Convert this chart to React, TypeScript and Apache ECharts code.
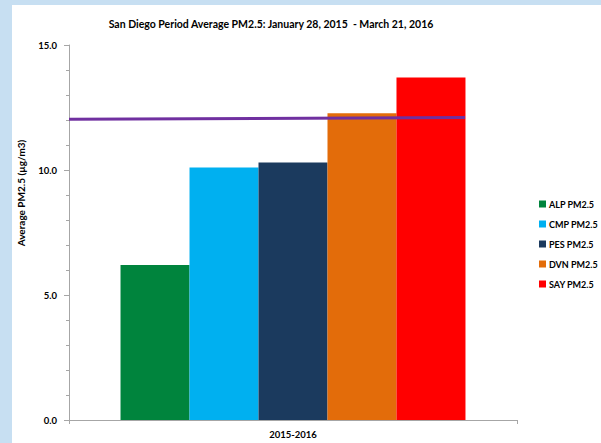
import React, { useEffect, useRef } from "react";
import * as echarts from "echarts";

const categories = ["2015-2016"];
const seriesNames = ["ALP PM2.5", "CMP PM2.5", "PES PM2.5", "DVN PM2.5", "SAY PM2.5"];
const seriesValues = [6.2, 10.1, 10.3, 12.27, 13.7];
const seriesColors = ["#00843D", "#00B0F0", "#1B3A5E", "#E36C0A", "#FF0000"];
const standardLine = [
  [0, 12.03],
  [0.884, 12.1],
];
const yTicks = [0, 5, 10, 15];

const FONT = "Lato, 'Open Sans', sans-serif";

export default function App() {
  const ref = useRef<HTMLDivElement>(null);
  useEffect(() => {
    const chart = echarts.init(ref.current!, null, { renderer: "svg" });
    const bars = seriesNames.map((name, i) => ({
      name,
      type: "bar",
      xAxisIndex: 0,
      yAxisIndex: 0,
      data: [seriesValues[i]],
      itemStyle: { color: seriesColors[i] },
      barGap: "0%",
      barCategoryGap: "23%",
    }));
    chart.setOption({
      animation: false,
      backgroundColor: "#C7DFF2",
      textStyle: { fontFamily: FONT },
      graphic: [
        {
          type: "rect",
          z: -10,
          shape: { x: 12, y: 5, width: 601, height: 450 },
          style: { fill: "#FFFFFF" },
        },
        {
          type: "text",
          x: 21,
          y: 193,
          rotation: Math.PI / 2,
          style: {
            text: "Average PM2.5 (µg/m3)",
            fontFamily: FONT,
            fontWeight: "bold",
            fontSize: 10,
            fill: "#000",
            align: "center",
            verticalAlign: "middle",
          },
        },
      ],
      title: {
        text: "San Diego Period Average PM2.5: January 28, 2015  - March 21, 2016",
        left: 266,
        textAlign: "center",
        top: 13,
        textStyle: { fontFamily: FONT, fontWeight: "bold", fontSize: 10.5, color: "#000" },
      },
      legend: {
        orient: "vertical",
        left: 534,
        top: 193,
        icon: "rect",
        itemWidth: 7,
        itemHeight: 7,
        itemGap: 8,
        data: seriesNames,
        textStyle: { fontFamily: FONT, fontWeight: "bold", fontSize: 9, color: "#000", lineHeight: 12, padding: [0, 0, 0, -2] },
      },
      grid: { left: 69, top: 45, right: 84, bottom: 23, containLabel: false },
      xAxis: [
        {
          type: "category",
          data: categories,
          axisLine: { lineStyle: { color: "#A6A6A6", width: 1 } },
          axisTick: { show: true, length: 4, lineStyle: { color: "#A6A6A6" } },
          axisLabel: { fontFamily: FONT, fontWeight: "bold", fontSize: 9.5, color: "#000", margin: 9 },
        },
        {
          type: "value",
          min: 0,
          max: 1,
          show: false,
        },
      ],
      yAxis: {
        type: "value",
        min: yTicks[0],
        max: yTicks[yTicks.length - 1],
        interval: 5,
        axisLine: { show: true, lineStyle: { color: "#A6A6A6", width: 1 } },
        axisTick: { show: true, length: 5, lineStyle: { color: "#A6A6A6" } },
        minorTick: { show: true, splitNumber: 5, length: 3, lineStyle: { color: "#A6A6A6" } },
        splitLine: { show: false },
        axisLabel: {
          fontFamily: FONT,
          fontWeight: "bold",
          fontSize: 9.5,
          color: "#000",
          margin: 12,
          formatter: (v: number) => v.toFixed(1),
        },
      },
      series: [
        ...bars,
        {
          name: "Standard",
          type: "line",
          xAxisIndex: 1,
          yAxisIndex: 0,
          data: standardLine,
          symbol: "none",
          lineStyle: { color: "#7030A0", width: 3 },
          z: 5,
        },
      ],
    });
    return () => chart.dispose();
  }, []);
  return (
    <div
      ref={ref}
      style={{ position: "absolute", left: 0, top: 0, width: 601, height: 443 }}
    />
  );
}
